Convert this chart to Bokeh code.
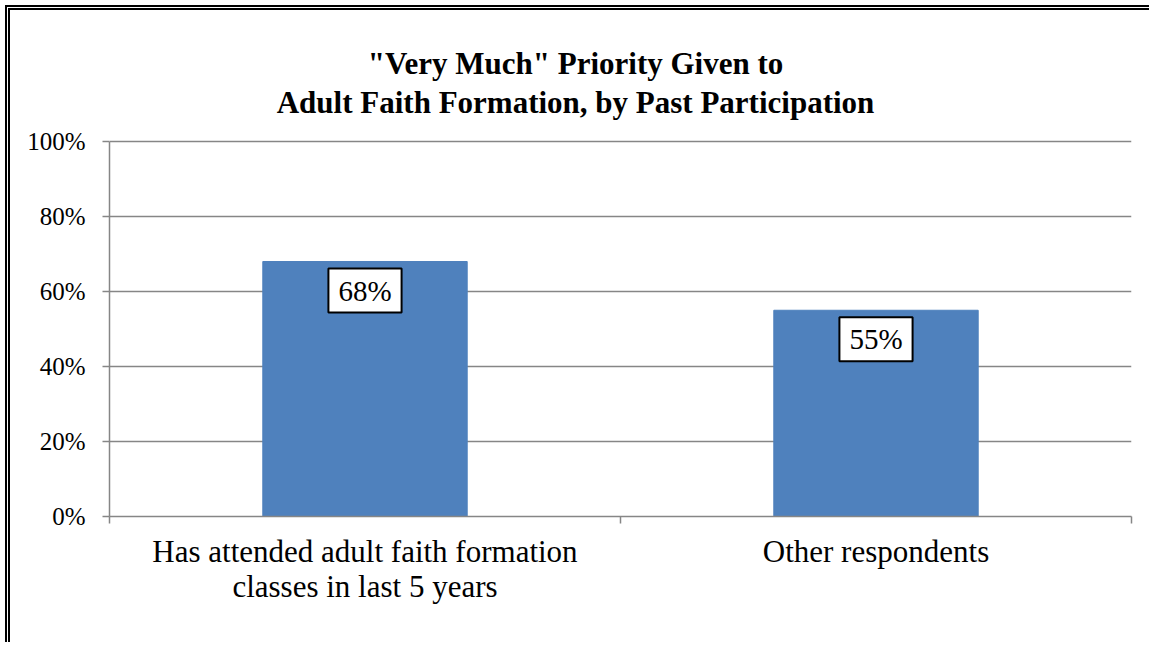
from bokeh.plotting import figure
from bokeh.models import Range1d, FixedTicker, Label
from bokeh.embed import file_html
from bokeh.resources import INLINE

# ---- data ----
categories = ["Has attended adult faith formation\nclasses in last 5 years", "Other respondents"]
values = [68, 55]
value_labels = ["68%", "55%"]
y_ticks = [0, 20, 40, 60, 80, 100]
y_tick_labels = ["0%", "20%", "40%", "60%", "80%", "100%"]
title_lines = ['"Very Much" Priority Given to', "Adult Faith Formation, by Past Participation"]

SERIF = "Liberation Serif"
GRAY = "#868686"
BLUE = "#4F81BD"

# layout (pixels)
W, H = 1144, 637
LEFT, RIGHT, TOP, BOTTOM = 99, 23, 10, 131
PX_PER_UNIT = 3.75               # 100% spans 375 px
Y_TOP = (H - TOP - BOTTOM) / PX_PER_UNIT

xpos = [i + 0.5 for i in range(len(categories))]

p = figure(width=W, height=H, output_backend="svg", toolbar_location=None,
           x_range=Range1d(0, len(categories)), y_range=Range1d(0, Y_TOP),
           min_border_left=LEFT, min_border_right=RIGHT, min_border_top=TOP, min_border_bottom=BOTTOM)
p.styles = {"border-left": "5px double black", "border-top": "5px double black",
            "margin-left": "5px", "margin-top": "5px"}
p.outline_line_color = None
p.background_fill_color = "white"
p.border_fill_color = "white"

p.vbar(x=xpos, top=values, width=0.4, fill_color=BLUE, line_color=BLUE)

# y axis
ya = p.yaxis[0]
ya.ticker = FixedTicker(ticks=y_ticks)
ya.bounds = (y_ticks[0], y_ticks[-1])
ya.major_label_overrides = {t: l for t, l in zip(y_ticks, y_tick_labels)}
ya.axis_line_color = GRAY
ya.axis_line_width = 1.5
ya.major_tick_line_color = GRAY
ya.major_tick_line_width = 1.5
ya.major_tick_out = 7
ya.major_tick_in = 0
ya.minor_tick_line_color = None
ya.major_label_standoff = 17
ya.major_label_text_font = SERIF
ya.major_label_text_font_size = "25px"
ya.major_label_text_color = "black"

# x axis
xa = p.xaxis[0]
xa.ticker = FixedTicker(ticks=xpos, minor_ticks=list(range(len(categories) + 1)))
xa.major_label_overrides = {x: c for x, c in zip(xpos, categories)}
xa.axis_line_color = GRAY
xa.axis_line_width = 1.5
xa.major_tick_line_color = None
xa.minor_tick_line_color = GRAY
xa.minor_tick_line_width = 1.5
xa.minor_tick_out = 7
xa.minor_tick_in = 0
xa.major_label_standoff = 10
xa.major_label_text_font = SERIF
xa.major_label_text_font_size = "31px"
xa.major_label_text_line_height = 1.0
xa.major_label_text_color = "black"

p.xgrid.grid_line_color = None
p.ygrid.grid_line_color = GRAY
p.ygrid.grid_line_width = 1.5
p.ygrid.ticker = FixedTicker(ticks=y_ticks)

# value labels
for x, v, t in zip(xpos, values, value_labels):
    p.add_layout(Label(x=x, y=v, text=t, text_align="center", text_baseline="middle",
                       y_offset=-29, text_font=SERIF, text_font_size="29px", text_color="black",
                       background_fill_color="white", border_line_color="black",
                       border_line_width=2, padding=(10, 6)))

# title lines (inside the frame area above 100%)
title_x = 0.912
p.add_layout(Label(x=title_x, y=120.8, text=title_lines[0], text_align="center", text_baseline="alphabetic",
                   text_font=SERIF, text_font_size="31px", text_font_style="bold", text_color="black"))
p.add_layout(Label(x=title_x, y=110.4, text=title_lines[1], text_align="center", text_baseline="alphabetic",
                   text_font=SERIF, text_font_size="31px", text_font_style="bold", text_color="black"))

open("out.html", "w").write(file_html(p, INLINE))
